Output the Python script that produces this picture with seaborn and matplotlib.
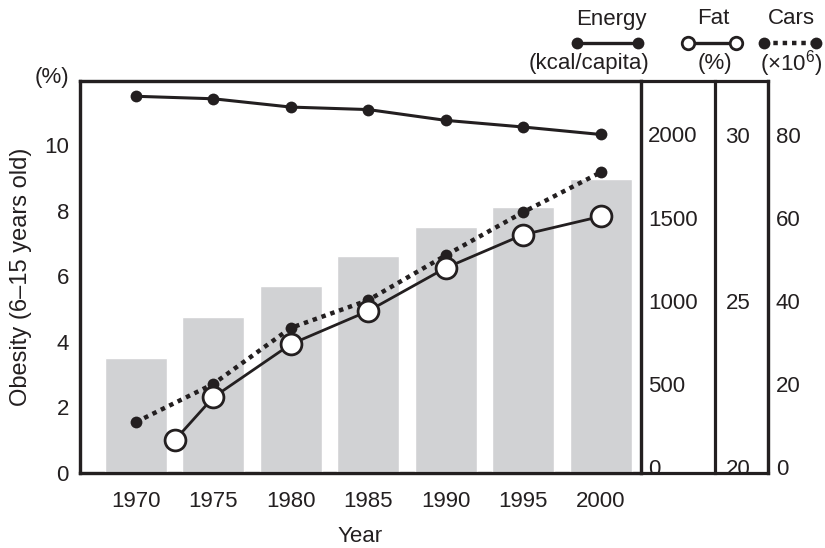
import matplotlib
matplotlib.use("Agg")
import matplotlib.pyplot as plt
import seaborn as sns

sns.set_theme(style="white")
plt.rcParams["font.family"] = ["Liberation Sans", "DejaVu Sans"]
plt.rcParams["mathtext.fontset"] = "custom"
plt.rcParams["mathtext.rm"] = "Liberation Sans"
plt.rcParams["mathtext.it"] = "Liberation Sans"

# data
years = [1970, 1975, 1980, 1985, 1990, 1995, 2000]
obesity = [3.5, 4.75, 5.7, 6.6, 7.5, 8.1, 8.95]          # % (6-15 years old)
energy = [2230, 2215, 2165, 2150, 2085, 2045, 2000]      # kcal/capita
fat_years = [1972.5, 1975, 1980, 1985, 1990, 1995, 2000]
fat = [20.8, 22.1, 23.7, 24.7, 26.0, 27.0, 27.55]        # % energy from fat
cars = [10.8, 20.0, 33.5, 40.2, 51.0, 61.4, 71.0]        # x10^6

INK = "#231f20"
BAR = "#d1d2d4"
FS = 16
LW = 2.3

W, H = 825, 548
L, R, B, T = 80, 641, 473, 81
R_FAT, R_CARS = 715, 768


def fx(px):
    return px / W


def fy(py):
    return 1 - py / H


fig = plt.figure(figsize=(W / 100, H / 100), dpi=100)

# outer frame (spans the three right-hand scales)
frame = fig.add_axes([fx(L), fy(B), fx(R_CARS - L), (B - T) / H], zorder=0)
frame.set_xticks([])
frame.set_yticks([])
for s in frame.spines.values():
    s.set_linewidth(LW)
    s.set_color(INK)

ax = fig.add_axes([fx(L), fy(B), fx(R - L), (B - T) / H], zorder=1)
ax.set_facecolor("none")
sns.barplot(x=years, y=obesity, native_scale=True, width=0.8, color=BAR,
            saturation=1, ax=ax, zorder=1)
ax.set_xlim(1966.4, 2002.6)
ax.set_ylim(0, 11.95)
ax.set_xticks(years)
ax.set_yticks([0, 2, 4, 6, 8, 10])
ax.tick_params(length=0, labelsize=FS, colors=INK)
ax.tick_params(axis="x", pad=13)
ax.tick_params(axis="y", pad=8)
ax.set_xlabel("Year", fontsize=FS, color=INK, labelpad=10)
ax.set_ylabel("Obesity (6–15 years old)", fontsize=17, color=INK, labelpad=9)
for s in ax.spines.values():
    s.set_linewidth(LW)
    s.set_color(INK)

# energy scale
ax_e = ax.twinx()
ax_e.set_ylim(-38, 2322)
sns.lineplot(x=years, y=energy, ax=ax_e, color=INK, marker="o", markersize=8.5,
             markeredgewidth=0, linewidth=2.2)
ax_e.set_yticks([0, 500, 1000, 1500, 2000])

# cars scale
ax_c = ax.twinx()
ax_c.set_ylim(-1.45, 93.0)
ax_c.spines["right"].set_position(("axes", (R_CARS - L) / (R - L)))
sns.lineplot(x=years, y=cars, ax=ax_c, color=INK, marker="o", markersize=8.5,
             markeredgewidth=0, linewidth=3.2, linestyle=(0, (1, 1.1)))
ax_c.set_yticks([0, 20, 40, 60, 80])

# fat scale
ax_f = ax.twinx()
ax_f.set_ylim(19.82, 31.63)
ax_f.spines["right"].set_position(("axes", (R_FAT - L) / (R - L)))
sns.lineplot(x=fat_years, y=fat, ax=ax_f, color=INK, marker="o", markersize=15,
             markerfacecolor="white", markeredgecolor=INK, markeredgewidth=2,
             linewidth=2)
ax_f.set_yticks([20, 25, 30])

for a, pad in [(ax_e, 5), (ax_f, 7.5), (ax_c, 5.5)]:
    a.set_ylabel("")
    a.tick_params(axis="y", length=0, labelsize=FS, colors=INK, pad=pad)
    for name, s in a.spines.items():
        s.set_visible(name == "right")
        s.set_linewidth(LW)
        s.set_color(INK)

# annotations and the key along the top
ov = fig.add_axes([0, 0, 1, 1], zorder=5)
ov.set_xlim(0, W)
ov.set_ylim(H, 0)
ov.axis("off")
ov.text(52, 78, "(%)", fontsize=FS, color=INK, ha="center", va="center")

ov.text(611, 19, "Energy", fontsize=FS, color=INK, ha="center", va="center")
ov.plot([577, 638], [43, 43], color=INK, lw=2.4, marker="o", ms=8.5, mew=0)
ov.text(589, 64, "(kcal/capita)", fontsize=FS, color=INK, ha="center", va="center")

ov.text(713, 19, "Fat", fontsize=FS, color=INK, ha="center", va="center")
ov.plot([688, 736], [43, 43], color=INK, lw=2.4, marker="o", ms=9,
        mfc="white", mec=INK, mew=2)
ov.text(715, 64, "(%)", fontsize=FS, color=INK, ha="center", va="center")

ov.text(791, 19, "Cars", fontsize=FS, color=INK, ha="center", va="center")
ov.plot([764, 816], [43, 43], color=INK, lw=3.2, ls=(0, (1, 1.1)),
        marker="o", ms=8.5, mew=0)
ov.text(791, 64, "(×10$^{6}$)", fontsize=16, color=INK, ha="center", va="center")

fig.savefig("out.png", dpi=100)
